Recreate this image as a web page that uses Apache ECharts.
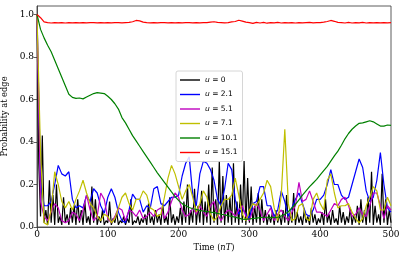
<!DOCTYPE html>
<html><head><meta charset="utf-8">
<script src="https://cdn.jsdelivr.net/npm/echarts@6/dist/echarts.min.js"></script>
<style>html,body{margin:0;padding:0;background:#fff}#c{width:407px;height:260px}</style>
</head><body><div id="c"></div>
<script>
// sampling steps (time units) of the arrays below
const stepFine = 2.5;   // black series
const step = 5;         // other series
const seriesNames = ['u = 0','u = 2.1','u = 5.1','u = 7.1','u = 10.1','u = 15.1'];
const seriesColors = ['#000000','#0000ff','#bf00bf','#bfbf00','#008000','#ff0000'];
const xTicks = [0,100,200,300,400,500];
const yTicks = [0,0.2,0.4,0.6,0.8,1.0];

const u0 = [1.0,0.3,0.05,0.43,0.02,0.08,0.01,0.22,0.02,0.15,0.01,0.2,0.02,0.05,0.01,0.14,0.02,0.06,0.01,0.09,
0.02,0.1,0.01,0.13,0.02,0.08,0.01,0.12,0.02,0.05,0.01,0.19,0.02,0.13,0.01,0.05,0.02,0.08,0.01,0.03,
0.02,0.12,0.01,0.04,0.02,0.07,0.01,0.03,0.02,0.05,0.01,0.04,0.02,0.13,0.01,0.03,0.02,0.05,0.01,0.04,
0.02,0.06,0.01,0.11,0.02,0.05,0.01,0.08,0.02,0.06,0.01,0.11,0.02,0.05,0.01,0.14,0.02,0.06,0.01,0.05,
0.02,0.09,0.01,0.12,0.02,0.2,0.01,0.08,0.02,0.18,0.01,0.1,0.02,0.17,0.01,0.12,0.02,0.2,0.01,0.28,
0.02,0.13,0.01,0.31,0.02,0.24,0.01,0.15,0.02,0.14,0.01,0.3,0.02,0.12,0.01,0.2,0.02,0.31,0.01,0.23,
0.02,0.19,0.01,0.1,0.02,0.16,0.01,0.13,0.02,0.08,0.01,0.06,0.02,0.07,0.01,0.08,0.02,0.06,0.01,0.08,
0.02,0.15,0.01,0.06,0.02,0.16,0.01,0.07,0.02,0.05,0.01,0.08,0.02,0.05,0.01,0.09,0.02,0.06,0.01,0.04,
0.02,0.07,0.01,0.13,0.02,0.06,0.01,0.08,0.02,0.04,0.01,0.1,0.02,0.07,0.01,0.05,0.02,0.09,0.01,0.06,
0.02,0.1,0.01,0.13,0.02,0.08,0.01,0.14,0.02,0.26,0.01,0.1,0.02,0.06,0.01,0.25,0.02,0.13,0.01,0.08,0.02];

const u21 = [1.0,0.22,0.1,0.1,0.12,0.2,0.29,0.25,0.24,0.26,0.13,0.09,0.1,0.09,0.15,0.12,0.18,0.16,0.1,0.065,
0.14,0.18,0.14,0.07,0.03,0.02,0.08,0.155,0.13,0.13,0.07,0.1,0.09,0.18,0.19,0.11,0.1,0.12,0.14,0.14,
0.15,0.24,0.3,0.33,0.15,0.1,0.25,0.31,0.3,0.27,0.22,0.13,0.1,0.18,0.3,0.27,0.13,0.06,0.09,0.06,
0.04,0.11,0.12,0.19,0.19,0.1,0.1,0.05,0.08,0.17,0.12,0.05,0.09,0.13,0.16,0.11,0.06,0.05,0.08,0.13,
0.13,0.15,0.2,0.27,0.2,0.2,0.15,0.13,0.14,0.2,0.26,0.32,0.28,0.17,0.12,0.14,0.22,0.35,0.2,0.09,0.07];

const u51 = [1.0,0.12,0.05,0.03,0.07,0.11,0.09,0.03,0.02,0.03,0.07,0.06,0.03,0.08,0.15,0.08,0.03,0.05,0.16,0.13,
0.04,0.02,0.05,0.09,0.08,0.03,0.08,0.07,0.05,0.08,0.04,0.05,0.07,0.05,0.08,0.09,0.04,0.07,0.12,0.16,
0.14,0.08,0.05,0.06,0.09,0.06,0.1,0.07,0.05,0.1,0.12,0.06,0.03,0.06,0.08,0.07,0.05,0.08,0.1,0.05,
0.03,0.08,0.11,0.08,0.03,0.06,0.09,0.03,0.06,0.08,0.05,0.03,0.07,0.1,0.21,0.12,0.13,0.17,0.12,0.07,
0.07,0.06,0.05,0.08,0.11,0.1,0.13,0.14,0.1,0.05,0.06,0.09,0.06,0.05,0.1,0.16,0.16,0.1,0.04,0.1,0.08];

const u71 = [1.0,0.35,0.02,0.01,0.08,0.26,0.2,0.12,0.09,0.12,0.08,0.13,0.17,0.22,0.16,0.11,0.09,0.05,0.03,0.06,
0.05,0.02,0.04,0.09,0.14,0.16,0.11,0.08,0.13,0.13,0.17,0.15,0.09,0.08,0.05,0.06,0.14,0.23,0.29,0.25,
0.19,0.13,0.17,0.2,0.14,0.07,0.11,0.17,0.14,0.06,0.03,0.05,0.1,0.13,0.13,0.15,0.23,0.15,0.06,0.03,
0.08,0.11,0.1,0.13,0.16,0.22,0.19,0.09,0.03,0.15,0.46,0.11,0.03,0.04,0.1,0.11,0.04,0.03,0.13,0.16,
0.11,0.08,0.22,0.25,0.16,0.09,0.1,0.1,0.11,0.07,0.04,0.02,0.04,0.1,0.14,0.19,0.17,0.08,0.08,0.14,0.1];

const u101 = [1.0,0.93,0.89,0.855,0.825,0.785,0.745,0.705,0.665,0.625,0.61,0.605,0.607,0.603,0.612,0.62,0.628,0.632,0.63,0.628,
0.615,0.6,0.58,0.555,0.515,0.49,0.46,0.43,0.405,0.38,0.355,0.33,0.305,0.28,0.255,0.232,0.21,0.188,0.165,0.143,
0.125,0.11,0.1,0.092,0.086,0.083,0.078,0.075,0.073,0.07,0.068,0.064,0.06,0.057,0.053,0.05,0.046,0.042,0.037,0.036,
0.038,0.04,0.042,0.044,0.046,0.046,0.045,0.044,0.046,0.052,0.06,0.072,0.09,0.106,0.128,0.15,0.17,0.19,0.207,0.224,
0.245,0.265,0.285,0.31,0.335,0.357,0.385,0.415,0.44,0.46,0.475,0.488,0.49,0.495,0.5,0.495,0.485,0.475,0.475,0.48,0.478];

const u151 = [1.0,0.985,0.965,0.962,0.96,0.962,0.961,0.962,0.96,0.962,0.961,0.962,0.961,0.962,0.961,0.962,0.962,0.961,0.962,0.961,
0.962,0.961,0.962,0.962,0.961,0.962,0.963,0.966,0.972,0.97,0.964,0.962,0.961,0.962,0.961,0.962,0.962,0.961,0.962,0.961,
0.962,0.961,0.962,0.962,0.961,0.962,0.961,0.962,0.962,0.964,0.966,0.963,0.962,0.961,0.962,0.965,0.967,0.973,0.969,0.964,
0.962,0.958,0.963,0.96,0.963,0.959,0.962,0.961,0.963,0.96,0.962,0.961,0.962,0.96,0.962,0.961,0.962,0.963,0.961,0.962,
0.962,0.964,0.967,0.972,0.968,0.963,0.962,0.96,0.963,0.96,0.962,0.961,0.963,0.96,0.962,0.961,0.962,0.961,0.962,0.961,0.962];

function pairs(arr, dt){ return arr.map((v,i)=>[i*dt, v]); }
const allData = [pairs(u0,stepFine), pairs(u21,step), pairs(u51,step), pairs(u71,step), pairs(u101,step), pairs(u151,step)];

const serif = 'DejaVu Serif';
const chart = echarts.init(document.getElementById('c'), null, {renderer:'canvas'});
chart.setOption({
  animation:false,
  backgroundColor:'#fff',
  grid:{left:37,right:16,top:6,bottom:33,containLabel:false,outerBoundsMode:'none',
    show:true,borderColor:'#333',borderWidth:0.8,backgroundColor:'transparent'},
  xAxis:{type:'value',min:0,max:500,interval:100,
    name:'Time ({i|nT})',nameLocation:'middle',nameGap:16,
    nameTextStyle:{fontFamily:serif,fontSize:8.3,color:'#000',rich:{i:{fontFamily:serif,fontStyle:'italic',fontSize:8.3,color:'#000'}}},
    axisLine:{show:true,lineStyle:{color:'#333',width:0.8}},
    axisTick:{show:true,inside:false,length:3.5,lineStyle:{color:'#333',width:0.8},customValues:xTicks},
    axisLabel:{fontFamily:serif,fontSize:9,color:'#000',margin:3,customValues:xTicks},
    splitLine:{show:false}},
  yAxis:{type:'value',min:0,max:1.04,
    name:'Probability at edge',nameLocation:'middle',nameGap:20,
    nameTextStyle:{fontFamily:serif,fontSize:8.3,color:'#000'},
    axisLine:{show:true,lineStyle:{color:'#333',width:0.8}},
    axisTick:{show:true,inside:false,length:3.5,lineStyle:{color:'#333',width:0.8},customValues:yTicks},
    axisLabel:{fontFamily:serif,fontSize:9,color:'#000',margin:3,customValues:yTicks,formatter:v=>v.toFixed(1)},
    splitLine:{show:false}},
  legend:{orient:'vertical',left:176,top:71,icon:'rect',itemWidth:20,itemHeight:1.4,itemGap:4.5,
    padding:[4,5,4,4],backgroundColor:'rgba(255,255,255,0.85)',borderColor:'#ccc',borderWidth:0.8,borderRadius:2,
    data:seriesNames,
    formatter:n=>'{i|u} = '+n.slice(4),
    textStyle:{fontFamily:'DejaVu Sans',fontSize:7.5,color:'#000',lineHeight:10,
      rich:{i:{fontFamily:'DejaVu Sans',fontStyle:'italic',fontSize:7.5,color:'#000'}}}},
  series: seriesNames.map((n,k)=>({name:n,type:'line',data:allData[k],symbol:'none',
    color:seriesColors[k],lineStyle:{width:1.2,color:seriesColors[k]},z:2+k*0.01,clip:true}))
});
</script></body></html>
